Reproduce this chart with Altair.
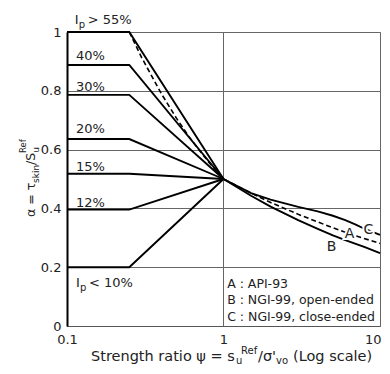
import altair as alt
import pandas as pd

FONT = "DejaVu Sans"
INK = "#222222"

# ---- data ----
ip_names = ["Ip>55", "Ip40", "Ip30", "Ip20", "Ip15", "Ip12", "Ip<10"]
ip_alpha_flat = [1.0, 0.888, 0.786, 0.636, 0.518, 0.396, 0.2]
ip_psi = [0.1, 0.25, 1.0]
ip_alpha_end = 0.5

api_psi = [0.25, 0.3, 0.4, 0.5, 0.6, 0.7, 0.8, 0.9, 1.0, 1.5, 2, 3, 4, 5, 6, 7, 8, 10]
api_alpha = [1.0, 0.913, 0.791, 0.707, 0.645, 0.598, 0.559, 0.527, 0.5,
             0.452, 0.42, 0.38, 0.354, 0.334, 0.319, 0.307, 0.297, 0.281]

ngi_open_psi = [1.0, 1.5, 2, 3, 4, 5, 6, 7, 8, 10]
ngi_open_alpha = [0.5, 0.443, 0.406, 0.36, 0.33, 0.308, 0.292, 0.279, 0.268, 0.248]

ngi_closed_psi = [1.0, 1.5, 2, 3, 4, 5, 6, 7, 8, 10]
ngi_closed_alpha = [0.5, 0.452, 0.43, 0.405, 0.39, 0.375, 0.36, 0.345, 0.33, 0.31]

pct_text = ["40%", "30%", "20%", "15%", "12%"]
pct_alpha = [0.918, 0.813, 0.669, 0.54, 0.419]
pct_psi = [0.114, 0.114, 0.114, 0.114, 0.114]

ip_tag_psi = [0.112, 0.114]
ip_tag_alpha = [1.04, 0.146]
ip_tag_rest = ["> 55%", "< 10%"]

curve_tag = ["A", "B", "C"]
curve_tag_psi = [6.38, 4.9, 8.44]
curve_tag_alpha = [0.314, 0.269, 0.328]

legend_lines = ["A : API-93", "B : NGI-99, open-ended", "C : NGI-99, close-ended"]
legend_psi = [1.055, 1.055, 1.055]
legend_alpha = [0.142, 0.089, 0.029]

x_ticks = [0.1, 1, 10]
y_ticks = [0, 0.2, 0.4, 0.6, 0.8, 1.0]

# ---- tables ----
rows = []
for name, a in zip(ip_names, ip_alpha_flat):
    for p, v in zip(ip_psi, [a, a, ip_alpha_end]):
        rows.append({"curve": name, "psi": p, "alpha": v, "order": p})
for p, v in zip(ngi_open_psi, ngi_open_alpha):
    rows.append({"curve": "B", "psi": p, "alpha": v, "order": p})
for p, v in zip(ngi_closed_psi, ngi_closed_alpha):
    rows.append({"curve": "C", "psi": p, "alpha": v, "order": p})
solid_df = pd.DataFrame(rows)
api_df = pd.DataFrame({"psi": api_psi, "alpha": api_alpha, "curve": "A"})

xscale = alt.Scale(type="log", domain=[0.1, 10], nice=False)
yscale = alt.Scale(domain=[0, 1], nice=False)
xaxis = alt.Axis(values=x_ticks, grid=True, ticks=False, title=None,
                 labelExpr="datum.value < 0.5 ? '0.1' : (datum.value < 5 ? '1' : '10')",
                 labelAlign={"condition": {"test": "datum.value > 5", "value": "right"},
                             "value": "center"},
                 labelOffset={"condition": {"test": "datum.value > 5", "value": 1},
                              "value": 0},
                 labelPadding=7, labelFontSize=13, labelFont=FONT, labelColor=INK,
                 gridColor="#666666", gridWidth=1, domainColor="#555555", domainWidth=1.2,
                 labelFlush=False)
yaxis = alt.Axis(values=y_ticks, grid=True, ticks=False, title=None,
                 labelExpr="format(datum.value, '~g')",
                 labelPadding=6, labelFontSize=13, labelFont=FONT, labelColor=INK,
                 gridColor="#666666", gridWidth=1, domainColor="#000000", domainWidth=2)

X = alt.X("psi:Q", scale=xscale, axis=xaxis)
Y = alt.Y("alpha:Q", scale=yscale, axis=yaxis)

solid = alt.Chart(solid_df).mark_line(color="black", strokeWidth=1.9).encode(
    x=X, y=Y, detail="curve:N", order="order:Q")
dashed = alt.Chart(api_df).mark_line(color="black", strokeWidth=1.6, strokeDash=[5, 3]).encode(
    x=X, y=Y)

pct_df = pd.DataFrame({"t": pct_text, "psi": pct_psi, "alpha": pct_alpha})
pct = alt.Chart(pct_df).mark_text(align="left", baseline="middle", font=FONT,
                                  fontSize=13, color=INK).encode(x=X, y=Y, text="t:N")

tag_df = pd.DataFrame({"psi": ip_tag_psi, "alpha": ip_tag_alpha, "rest": ip_tag_rest})
tag_I = alt.Chart(tag_df).mark_text(align="left", baseline="middle", font=FONT, fontSize=13,
                                    color=INK, text="I").encode(x=X, y=Y)
tag_p = alt.Chart(tag_df).mark_text(align="left", baseline="middle", font=FONT, fontSize=10,
                                    color=INK, text="p", dx=4, dy=5).encode(x=X, y=Y)
tag_rest = alt.Chart(tag_df).mark_text(align="left", baseline="middle", font=FONT, fontSize=13,
                                       color=INK, dx=13).encode(x=X, y=Y, text="rest:N")

ct_df = pd.DataFrame({"t": curve_tag, "psi": curve_tag_psi, "alpha": curve_tag_alpha})
ct_halo = alt.Chart(ct_df).mark_text(align="center", baseline="middle", font=FONT, fontSize=14,
                                     color="white", stroke="white", strokeWidth=4).encode(
    x=X, y=Y, text="t:N")
ct = alt.Chart(ct_df).mark_text(align="center", baseline="middle", font=FONT, fontSize=14,
                                color=INK).encode(x=X, y=Y, text="t:N")

lg_df = pd.DataFrame({"t": legend_lines, "psi": legend_psi, "alpha": legend_alpha})
lg = alt.Chart(lg_df).mark_text(align="left", baseline="middle", font=FONT, fontSize=12.5,
                                color=INK).encode(x=X, y=Y, text="t:N")

one = pd.DataFrame({"k": [0]})


def piece(text, px, py, fs, angle=0):
    # px, py are pixel offsets from the plot origin
    kw = dict(text=text, font=FONT, fontSize=fs, color=INK, align="left", baseline="alphabetic")
    if angle:
        kw["angle"] = angle
    return alt.Chart(one).mark_text(**kw).encode(x=alt.value(px), y=alt.value(py))


# y-axis title: alpha = tau_skin / S_u^Ref (rotated)
ytitle = [
    piece("α = τ", -32, 185, 12.5, 270),
    piece("skin", -28.5, 151, 9, 270),
    piece("/S", -32, 133, 12.5, 270),
    piece("u", -28.5, 120.8, 9, 270),
    piece("Ref", -41, 121, 8.5, 270),
]

# x-axis title: Strength ratio psi = s_u^Ref / sigma'_vo (Log scale)
ox, base = 24, 329
xtitle = [
    piece("Strength ratio ψ = s", ox, base, 14.5),
    piece("u", ox + 145, base + 3, 10),
    piece("Ref", ox + 150, base - 7, 10),
    piece("/σ'", ox + 167, base, 14.5),
    piece("vo", ox + 185, base + 3, 10),
    piece("(Log scale)", ox + 202, base, 14.5),
]

chart = alt.layer(solid, dashed, pct, tag_I, tag_p, tag_rest, ct_halo, ct, lg,
                  *ytitle, *xtitle).properties(
    width=313, height=294,
    autosize=alt.AutoSizeParams(type="none"),
    padding={"left": 59, "top": 24, "right": 2, "bottom": 40},
).configure_view(stroke="#666666", strokeWidth=1).configure(background="white")

chart.save("out.html", embed_options={"renderer": "svg", "actions": False})
